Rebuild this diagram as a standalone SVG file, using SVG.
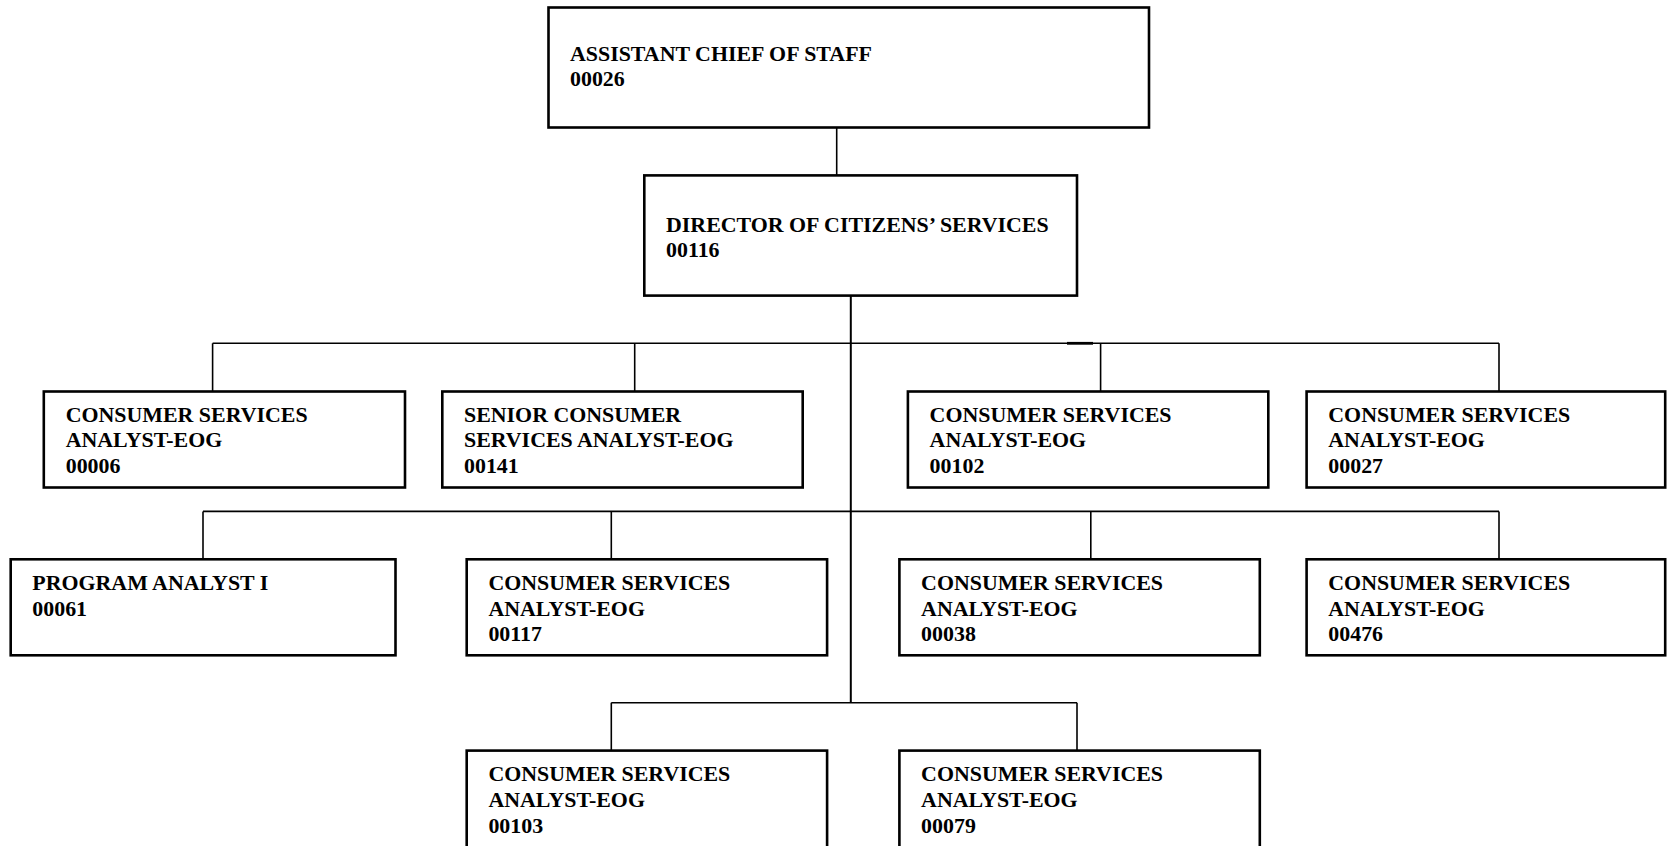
<svg xmlns="http://www.w3.org/2000/svg" width="1667" height="846" viewBox="0 0 1667 846">
<style>
.box{fill:#fff;stroke:#000;stroke-width:2.6}
.ln{stroke:#000;stroke-width:1.6;fill:none}
.t{font-family:"Liberation Serif","Times New Roman",serif;font-weight:bold;font-size:21.9px;fill:#000}
</style>
<rect width="1667" height="846" fill="#fff"/>
<g id="connectors">
<line class="ln" x1="836.7" y1="127.6" x2="836.7" y2="175.4"/>
<line class="ln" x1="850.8" y1="295.6" x2="850.8" y2="703" style="stroke-width:2"/>
<line class="ln" x1="212.6" y1="343.3" x2="1499" y2="343.3"/>
<line class="ln" x1="1067" y1="343.3" x2="1093" y2="343.3" style="stroke-width:2.8"/>
<line class="ln" x1="212.6" y1="343.3" x2="212.6" y2="391.5"/>
<line class="ln" x1="634.7" y1="343.3" x2="634.7" y2="391.5"/>
<line class="ln" x1="1100.6" y1="343.3" x2="1100.6" y2="391.5"/>
<line class="ln" x1="1499" y1="343.3" x2="1499" y2="391.5"/>
<line class="ln" x1="203" y1="511.4" x2="1499" y2="511.4"/>
<line class="ln" x1="203" y1="511.4" x2="203" y2="559.3"/>
<line class="ln" x1="611.3" y1="511.4" x2="611.3" y2="559.3"/>
<line class="ln" x1="1090.8" y1="511.4" x2="1090.8" y2="559.3"/>
<line class="ln" x1="1499" y1="511.4" x2="1499" y2="559.3"/>
<line class="ln" x1="611.3" y1="702.7" x2="1077" y2="702.7"/>
<line class="ln" x1="611.3" y1="702.7" x2="611.3" y2="750.6"/>
<line class="ln" x1="1077" y1="702.7" x2="1077" y2="750.6"/>
</g>
<g id="n00026">
<rect class="box" x="548.5" y="7.5" width="600.5" height="120"/>
<text class="t" x="570" y="60.5">ASSISTANT CHIEF OF STAFF</text>
<text class="t" x="570" y="86">00026</text>
</g>
<g id="n00116">
<rect class="box" x="644.3" y="175.4" width="432.7" height="120.2"/>
<text class="t" x="666" y="231.5">DIRECTOR OF CITIZENS’ SERVICES</text>
<text class="t" x="666" y="257">00116</text>
</g>
<g id="n00006">
<rect class="box" x="43.8" y="391.5" width="361.2" height="96"/>
<text class="t" x="65.7" y="421.7">CONSUMER SERVICES</text>
<text class="t" x="65.7" y="447.3">ANALYST-EOG</text>
<text class="t" x="65.7" y="472.9">00006</text>
</g>
<g id="n00141">
<rect class="box" x="442.3" y="391.5" width="360.4" height="96"/>
<text class="t" x="464" y="421.7">SENIOR CONSUMER</text>
<text class="t" x="464" y="447.3">SERVICES ANALYST-EOG</text>
<text class="t" x="464" y="472.9">00141</text>
</g>
<g id="n00102">
<rect class="box" x="907.9" y="391.5" width="360.4" height="96"/>
<text class="t" x="929.6" y="421.7">CONSUMER SERVICES</text>
<text class="t" x="929.6" y="447.3">ANALYST-EOG</text>
<text class="t" x="929.6" y="472.9">00102</text>
</g>
<g id="n00027">
<rect class="box" x="1306.6" y="391.5" width="358.6" height="96"/>
<text class="t" x="1328.3" y="421.7">CONSUMER SERVICES</text>
<text class="t" x="1328.3" y="447.3">ANALYST-EOG</text>
<text class="t" x="1328.3" y="472.9">00027</text>
</g>
<g id="n00061">
<rect class="box" x="10.7" y="559.3" width="384.8" height="96"/>
<text class="t" x="32.3" y="590">PROGRAM ANALYST I</text>
<text class="t" x="32.3" y="615.8">00061</text>
</g>
<g id="n00117">
<rect class="box" x="466.7" y="559.3" width="360.4" height="96"/>
<text class="t" x="488.4" y="590">CONSUMER SERVICES</text>
<text class="t" x="488.4" y="615.6">ANALYST-EOG</text>
<text class="t" x="488.4" y="641.2">00117</text>
</g>
<g id="n00038">
<rect class="box" x="899.4" y="559.3" width="360.4" height="96"/>
<text class="t" x="921.1" y="590">CONSUMER SERVICES</text>
<text class="t" x="921.1" y="615.6">ANALYST-EOG</text>
<text class="t" x="921.1" y="641.2">00038</text>
</g>
<g id="n00476">
<rect class="box" x="1306.6" y="559.3" width="358.6" height="96"/>
<text class="t" x="1328.3" y="590">CONSUMER SERVICES</text>
<text class="t" x="1328.3" y="615.6">ANALYST-EOG</text>
<text class="t" x="1328.3" y="641.2">00476</text>
</g>
<g id="n00103">
<rect class="box" x="466.7" y="750.6" width="360.4" height="110"/>
<text class="t" x="488.4" y="781.3">CONSUMER SERVICES</text>
<text class="t" x="488.4" y="806.9">ANALYST-EOG</text>
<text class="t" x="488.4" y="832.5">00103</text>
</g>
<g id="n00079">
<rect class="box" x="899.4" y="750.6" width="360.4" height="110"/>
<text class="t" x="921.1" y="781.3">CONSUMER SERVICES</text>
<text class="t" x="921.1" y="806.9">ANALYST-EOG</text>
<text class="t" x="921.1" y="832.5">00079</text>
</g>
</svg>
